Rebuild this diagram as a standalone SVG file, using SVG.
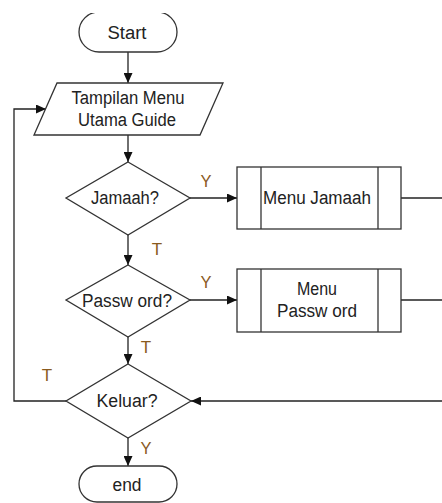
<svg xmlns="http://www.w3.org/2000/svg" width="442" height="503" viewBox="0 0 442 503">
<style>
.shape{fill:#fff;stroke:#333;stroke-width:1.3}
.line{fill:none;stroke:#222;stroke-width:1.3}
.txt{font-family:"Liberation Sans",Arial,sans-serif;font-size:18px;fill:#222;text-anchor:middle}
.lbl{font-family:"Liberation Sans",Arial,sans-serif;font-size:17px;fill:#8a5a1e;text-anchor:middle}
</style>
<defs>
<marker id="arr" markerUnits="userSpaceOnUse" markerWidth="11" markerHeight="9" refX="10" refY="4.5" orient="auto">
<path d="M0,0 L10,4.5 L0,9 z" fill="#111"/>
</marker>
<clipPath id="topclip"><rect x="0" y="13" width="442" height="490"/></clipPath>
</defs>
<rect width="442" height="503" fill="#fff"/>
<g id="connectors">
<line class="line" x1="128" y1="52" x2="128" y2="83" marker-end="url(#arr)"/>
<line class="line" x1="128" y1="135" x2="128" y2="162" marker-end="url(#arr)"/>
<line class="line" x1="190" y1="198" x2="237" y2="198" marker-end="url(#arr)"/>
<line class="line" x1="128" y1="235" x2="128" y2="265" marker-end="url(#arr)"/>
<line class="line" x1="190" y1="300" x2="237" y2="300" marker-end="url(#arr)"/>
<line class="line" x1="128" y1="337" x2="128" y2="364" marker-end="url(#arr)"/>
<line class="line" x1="128" y1="438" x2="128" y2="466" marker-end="url(#arr)"/>
<line class="line" x1="401" y1="198" x2="442" y2="198"/>
<line class="line" x1="401" y1="300" x2="442" y2="300"/>
<line class="line" x1="442" y1="401" x2="191" y2="401" marker-end="url(#arr)"/>
<polyline class="line" points="66,401 14,401 14,109 46,109" marker-end="url(#arr)"/>
<text class="lbl" x="206" y="187" textLength="11" lengthAdjust="spacingAndGlyphs">Y</text>
<text class="lbl" x="157" y="255">T</text>
<text class="lbl" x="206" y="288" textLength="11" lengthAdjust="spacingAndGlyphs">Y</text>
<text class="lbl" x="146" y="353">T</text>
<text class="lbl" x="47" y="381">T</text>
<text class="lbl" x="146" y="454" textLength="11" lengthAdjust="spacingAndGlyphs">Y</text>
</g>
<g id="start">
<rect class="shape" x="79" y="12" width="98" height="40" rx="20" clip-path="url(#topclip)"/>
<text class="txt" x="127" y="39" textLength="39" lengthAdjust="spacingAndGlyphs">Start</text>
</g>
<g id="tampilan">
<polygon class="shape" points="57,83 223,83 200,135 34,135"/>
<text class="txt" x="128" y="104" textLength="113" lengthAdjust="spacingAndGlyphs">Tampilan Menu</text>
<text class="txt" x="127" y="126" textLength="98" lengthAdjust="spacingAndGlyphs">Utama Guide</text>
</g>
<g id="jamaah">
<polygon class="shape" points="128,162 190,198 128,235 66,198"/>
<text class="txt" x="125" y="204" textLength="68" lengthAdjust="spacingAndGlyphs">Jamaah?</text>
</g>
<g id="menu-jamaah">
<rect class="shape" x="237" y="167" width="164" height="62"/>
<line class="shape" x1="261" y1="167" x2="261" y2="229"/>
<line class="shape" x1="378" y1="167" x2="378" y2="229"/>
<text class="txt" x="317" y="204" textLength="108" lengthAdjust="spacingAndGlyphs">Menu Jamaah</text>
</g>
<g id="password">
<polygon class="shape" points="128,265 190,300 128,337 66,300"/>
<text class="txt" x="127" y="307" textLength="90" lengthAdjust="spacingAndGlyphs">Passw ord?</text>
</g>
<g id="menu-password">
<rect class="shape" x="237" y="269" width="164" height="63"/>
<line class="shape" x1="261" y1="269" x2="261" y2="332"/>
<line class="shape" x1="378" y1="269" x2="378" y2="332"/>
<text class="txt" x="317" y="295" textLength="40" lengthAdjust="spacingAndGlyphs">Menu</text>
<text class="txt" x="317" y="317" textLength="80" lengthAdjust="spacingAndGlyphs">Passw ord</text>
</g>
<g id="keluar">
<polygon class="shape" points="128,364 191,401 128,438 66,401"/>
<text class="txt" x="127" y="407" textLength="61" lengthAdjust="spacingAndGlyphs">Keluar?</text>
</g>
<g id="end">
<rect class="shape" x="79" y="466" width="98" height="36" rx="18"/>
<text class="txt" x="127" y="491" textLength="29" lengthAdjust="spacingAndGlyphs">end</text>
</g>
</svg>
